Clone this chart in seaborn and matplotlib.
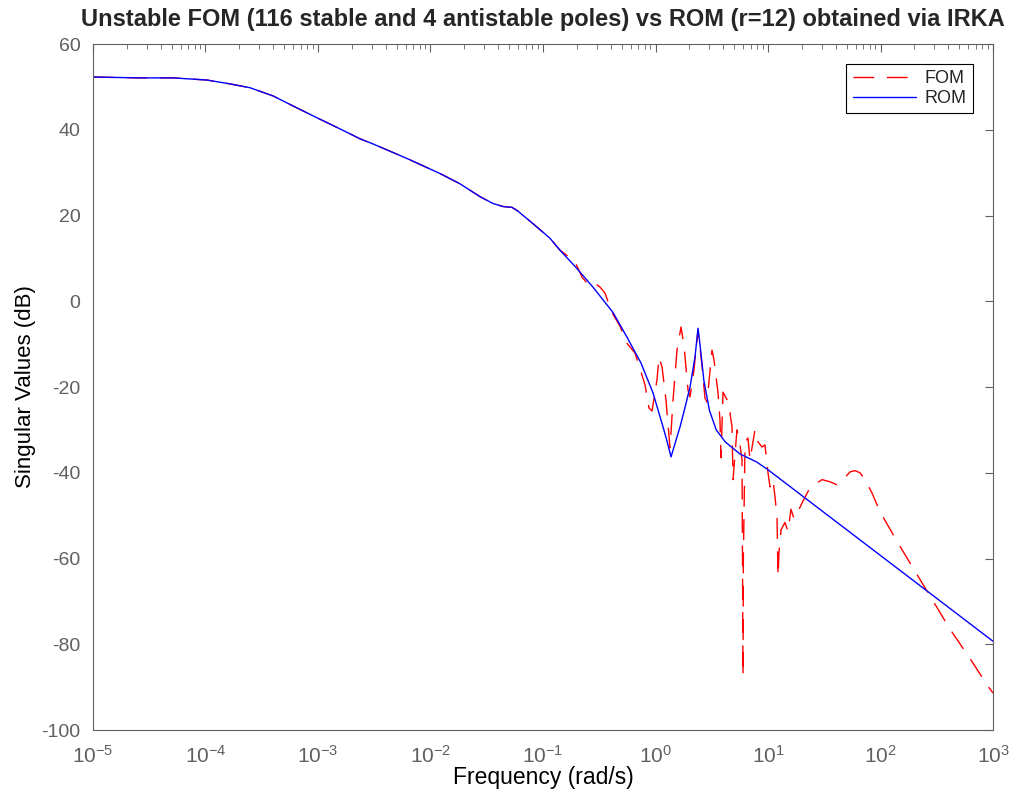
import matplotlib
matplotlib.use("Agg")
import matplotlib.pyplot as plt
import seaborn as sns
import numpy as np
import pandas as pd

# low-frequency part, both models lie on top of each other here
# (log10 of frequency in rad/s, singular value in dB)
low_logf = [-5.0, -4.582, -4.289, -3.987, -3.782, -3.604, -3.40, -3.187, -3.009, -2.804,
            -2.627, -2.511, -2.209, -1.916, -1.738, -1.56, -1.444, -1.356, -1.276, -1.231,
            -1.089, -0.938, -0.849]
low_db = [52.3, 52.1, 52.1, 51.6, 50.7, 49.8, 47.9, 45.1, 42.8, 40.2,
          37.9, 36.7, 33.3, 29.8, 27.4, 24.4, 22.8, 22.1, 21.9, 21.2,
          18.1, 14.7, 11.9]

# ROM (r=12) above 0.1 rad/s
rom_hi_logf = [-0.707, -0.556, -0.378, -0.253, -0.129, -0.022, 0.067, 0.102, 0.138, 0.178,
               0.218, 0.262, 0.307, 0.351, 0.378, 0.395, 0.43, 0.48, 0.54, 0.62,
               0.75, 0.9, 1.0, 1.5, 2.0, 2.5, 3.0]
rom_hi_db = [7.9, 3.3, -2.6, -8.4, -14.4, -21.4, -29.3, -32.6, -36.3, -32.8,
             -29.3, -24.8, -20.0, -13.0, -6.3, -10.0, -18.5, -25.5, -30.0, -32.8,
             -35.6, -37.5, -39.3, -49.3, -59.3, -69.3, -79.3]

# FOM above 0.1 rad/s
fom_hi_logf = [-0.716, -0.653, -0.582, -0.529, -0.493, -0.449, -0.387, -0.316, -0.253, -0.182,
               -0.129, -0.093, -0.058, -0.031, 0.013, 0.031, 0.058, 0.093, 0.129, 0.156,
               0.191, 0.227, 0.253, 0.289, 0.307, 0.342, 0.378, 0.413, 0.440, 0.458,
               0.502, 0.520, 0.556, 0.573, 0.582, 0.600, 0.636, 0.662, 0.680, 0.689,
               0.724, 0.751, 0.769, 0.778, 0.781, 0.796, 0.822, 0.840, 0.884, 0.911,
               0.947, 0.973, 1.0, 1.018, 1.044, 1.062, 1.08, 1.089, 1.098, 1.116,
               1.151, 1.178, 1.204, 1.231, 1.249, 1.311, 1.373, 1.480, 1.551, 1.613,
               1.667, 1.729, 1.773, 1.818, 1.862, 1.924, 1.996, 2.147, 2.307, 2.458,
               2.618, 2.787, 2.956, 3.0]
fom_hi_db = [9.3, 5.6, 3.5, 4.0, 3.3, 1.9, -2.6, -5.8, -9.8, -12.1,
             -16.5, -19.5, -24.9, -25.6, -18.4, -13.0, -15.3, -23.0, -34.2, -23.0,
             -11.4, -6.0, -10.2, -20.7, -22.3, -16.0, -6.7, -14.9, -22.6, -23.5,
             -11.4, -13.7, -21.4, -27.7, -36.5, -21.2, -23.0, -26.0, -29.3, -41.6,
             -30.0, -33.5, -37.0, -87.4, -60.0, -32.8, -31.9, -37.0, -30.0, -32.8,
             -34.0, -33.5, -40.0, -43.3, -41.6, -45.6, -50.2, -64.2, -58.4, -53.3,
             -51.6, -53.7, -48.5, -50.7, -50.0, -46.6, -43.5, -41.6, -42.1, -42.8,
             -41.6, -39.8, -39.5, -40.0, -41.6, -44.7, -49.1, -56.0, -63.0, -69.5,
             -76.5, -83.0, -89.8, -91.4]

xtick_exp = [-5, -4, -3, -2, -1, 0, 1, 2, 3]

rom = pd.DataFrame({"freq": 10.0 ** np.array(low_logf + rom_hi_logf), "db": low_db + rom_hi_db})
fom = pd.DataFrame({"freq": 10.0 ** np.array(low_logf + fom_hi_logf), "db": low_db + fom_hi_db})

sns.set_style("white")
plt.rcParams['font.family'] = ['Liberation Sans', 'DejaVu Sans']
plt.rcParams['axes.unicode_minus'] = False
plt.rcParams['mathtext.fontset'] = 'custom'
plt.rcParams['mathtext.rm'] = 'Liberation Sans'
plt.rcParams['mathtext.default'] = 'regular'

fig = plt.figure(figsize=(10.14, 7.96), dpi=100)
ax = fig.add_axes([0.0917, 0.0829, 0.8876, 0.8618])

sns.lineplot(data=fom, x="freq", y="db", sort=False, estimator=None, ax=ax,
             color="red", linewidth=1.0, label="FOM")
sns.lineplot(data=rom, x="freq", y="db", sort=False, estimator=None, ax=ax,
             color="blue", linewidth=1.0, label="ROM")
ax.lines[0].set_linestyle((0, (15, 9)))

ax.set_xscale("log")
ax.set_xlim(1e-5, 1e3)
ax.set_ylim(-100, 60)
ax.set_yticks(range(-100, 61, 20))
ax.set_xticks([10.0 ** k for k in xtick_exp], labels=[f"$10^{{{k}}}$" for k in xtick_exp])

gray = "#606060"
for s in ax.spines.values():
    s.set_color(gray)
    s.set_linewidth(0.8)
ax.tick_params(which="both", direction="in", top=True, right=True, color=gray,
               labelcolor=gray, labelsize=14)
ax.tick_params(which="major", length=6, width=0.8)
ax.tick_params(axis="y", pad=9)
ax.tick_params(axis="x", which="major", pad=11, labelsize=15)
ax.tick_params(which="minor", length=3.5, width=0.6, left=False, right=False)

ax.set_xlabel("Frequency (rad/s)", fontsize=16.5, color="black", labelpad=-1)
ax.set_ylabel("Singular Values (dB)", fontsize=16, color="black", labelpad=4)
ax.set_title("Unstable FOM (116 stable and 4 antistable poles) vs ROM (r=12) obtained via IRKA",
             fontsize=17, fontweight="bold", pad=13)

leg = ax.legend(loc="upper right", fontsize=13, fancybox=False, framealpha=1,
                edgecolor="black", borderaxespad=1.1, handlelength=3.5,
                handletextpad=0.5, borderpad=0.35, labelspacing=0.15)
leg.get_frame().set_linewidth(0.8)

fig.savefig("out.png", dpi=100)
